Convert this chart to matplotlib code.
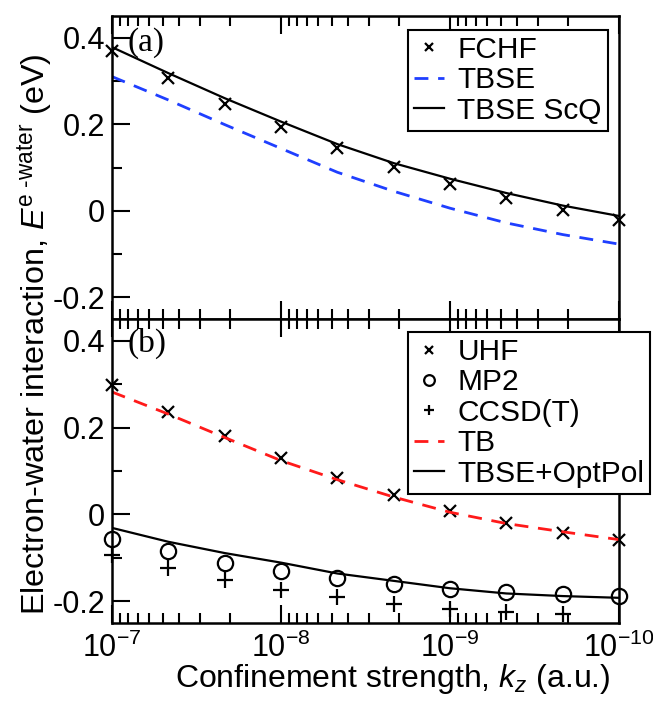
import numpy as np
import matplotlib
matplotlib.use("Agg")
import matplotlib.pyplot as plt
from matplotlib.ticker import MultipleLocator, LogLocator

# confinement strength (a.u.), three points per decade
kz = [1e-7, 4.64e-8, 2.15e-8, 1e-8, 4.64e-9, 2.15e-9, 1e-9, 4.64e-10, 2.15e-10, 1e-10]

# panel (a)
fchf = [0.370, 0.306, 0.247, 0.193, 0.145, 0.101, 0.062, 0.029, 0.001, -0.021]
tbse = [0.310, 0.256, 0.199, 0.144, 0.089, 0.045, 0.006, -0.028, -0.055, -0.077]
tbse_scq = [0.378, 0.318, 0.260, 0.206, 0.154, 0.110, 0.074, 0.041, 0.012, -0.012]

# panel (b)
uhf = [0.299, 0.237, 0.181, 0.129, 0.083, 0.044, 0.009, -0.020, -0.043, -0.060]
mp2 = [-0.056, -0.084, -0.111, -0.130, -0.147, -0.161, -0.172, -0.179, -0.184, -0.188]
ccsdt = [-0.094, -0.124, -0.151, -0.174, -0.190, -0.207, -0.218, -0.224, -0.229]
tb = [0.282, 0.231, 0.177, 0.124, 0.080, 0.040, 0.005, -0.021, -0.040, -0.058]
optpol = [-0.031, -0.063, -0.089, -0.111, -0.136, -0.153, -0.170, -0.182, -0.188, -0.192]

plt.rcParams['font.family'] = ['Liberation Sans', 'DejaVu Sans']
plt.rcParams['mathtext.fontset'] = 'custom'
plt.rcParams['mathtext.rm'] = 'Liberation Sans'
plt.rcParams['mathtext.it'] = 'Liberation Sans:italic'
plt.rcParams['font.size'] = 22

fig = plt.figure(figsize=(6.53, 7.04), dpi=100)
W, H = 653, 704
ax_a = fig.add_axes([112 / W, 1 - 319 / H, 507 / W, 303 / H])
ax_b = fig.add_axes([112 / W, 1 - 623 / H, 507 / W, 304 / H], sharex=ax_a)

ms = 9
ax_a.plot(kz, fchf, 'x', color='black', ms=ms, mew=1.6, clip_on=False, label='FCHF')
ax_a.plot(kz, tbse, '--', color='#1f3fff', lw=2, dashes=(5, 3.5), label='TBSE')
ax_a.plot(kz, tbse_scq, '-', color='black', lw=1.6, label='TBSE ScQ')

ax_b.plot(kz, uhf, 'x', color='black', ms=ms, mew=1.6, clip_on=False, label='UHF')
ax_b.plot(kz, mp2, 'o', mfc='none', mec='black', ms=11, mew=1.6, clip_on=False, label='MP2')
ax_b.plot(kz[:len(ccsdt)], ccsdt, '+', color='black', ms=11, mew=1.6, clip_on=False, label='CCSD(T)')
ax_b.plot(kz, tb, '--', color='#ff1a1a', lw=2, dashes=(5, 3.5), label='TB')
ax_b.plot(kz, optpol, '-', color='black', lw=1.6, label='TBSE+OptPol')

for ax in (ax_a, ax_b):
    ax.set_xscale('log')
    ax.set_xlim(1e-7, 1e-10)
    ax.set_ylim(-0.25, 0.45)
    ax.yaxis.set_major_locator(MultipleLocator(0.2))
    ax.yaxis.set_minor_locator(MultipleLocator(0.1))
    ax.xaxis.set_major_locator(LogLocator(base=10, numticks=10))
    ax.xaxis.set_minor_locator(LogLocator(base=10, subs=np.arange(2, 10), numticks=10))
    ax.yaxis.set_major_formatter(plt.FuncFormatter(lambda v, p: '0' if abs(v) < 1e-9 else f'{v:.1f}'))
    ax.tick_params(which='both', direction='in', top=True, right=False, width=1.5)
    ax.tick_params(which='major', length=13, labelsize=22)
    ax.tick_params(axis='y', pad=5)
    ax.tick_params(which='minor', length=7)
    for s in ax.spines.values():
        s.set_linewidth(1.8)

ax_a.tick_params(axis='x', labelbottom=False)
ax_b.tick_params(axis='x', pad=7)

ax_a.text(0.03, 0.912, '(a)', transform=ax_a.transAxes, va='center', ha='left',
          family=['Liberation Serif'], fontsize=24)
ax_b.text(0.03, 0.92, '(b)', transform=ax_b.transAxes, va='center', ha='left',
          family=['Liberation Serif'], fontsize=24)

leg_kw = dict(loc='upper left', frameon=True, fancybox=False, edgecolor='black', framealpha=1,
              fontsize=21.5, handlelength=1.0, handletextpad=0.45, labelspacing=0.08,
              borderpad=0.2, borderaxespad=0, markerscale=0.7)
la = ax_a.legend(bbox_to_anchor=(0.584, 0.954), **leg_kw)
lb = ax_b.legend(bbox_to_anchor=(0.584, 0.957), **leg_kw)
for lg in (la, lb):
    lg.get_frame().set_linewidth(1.5)

ax_b.set_xlabel(r'Confinement strength, $k_z$ (a.u.)', fontsize=23)
ax_b.xaxis.set_label_coords(0.554, -0.128)
fig.text(0.055, 1 - 334 / H,
         r'Electron-water interaction, $E^{\text{e -water}}$ (eV)',
         rotation=90, va='center', ha='center', fontsize=23.3)

fig.savefig('out.png', dpi=100)
